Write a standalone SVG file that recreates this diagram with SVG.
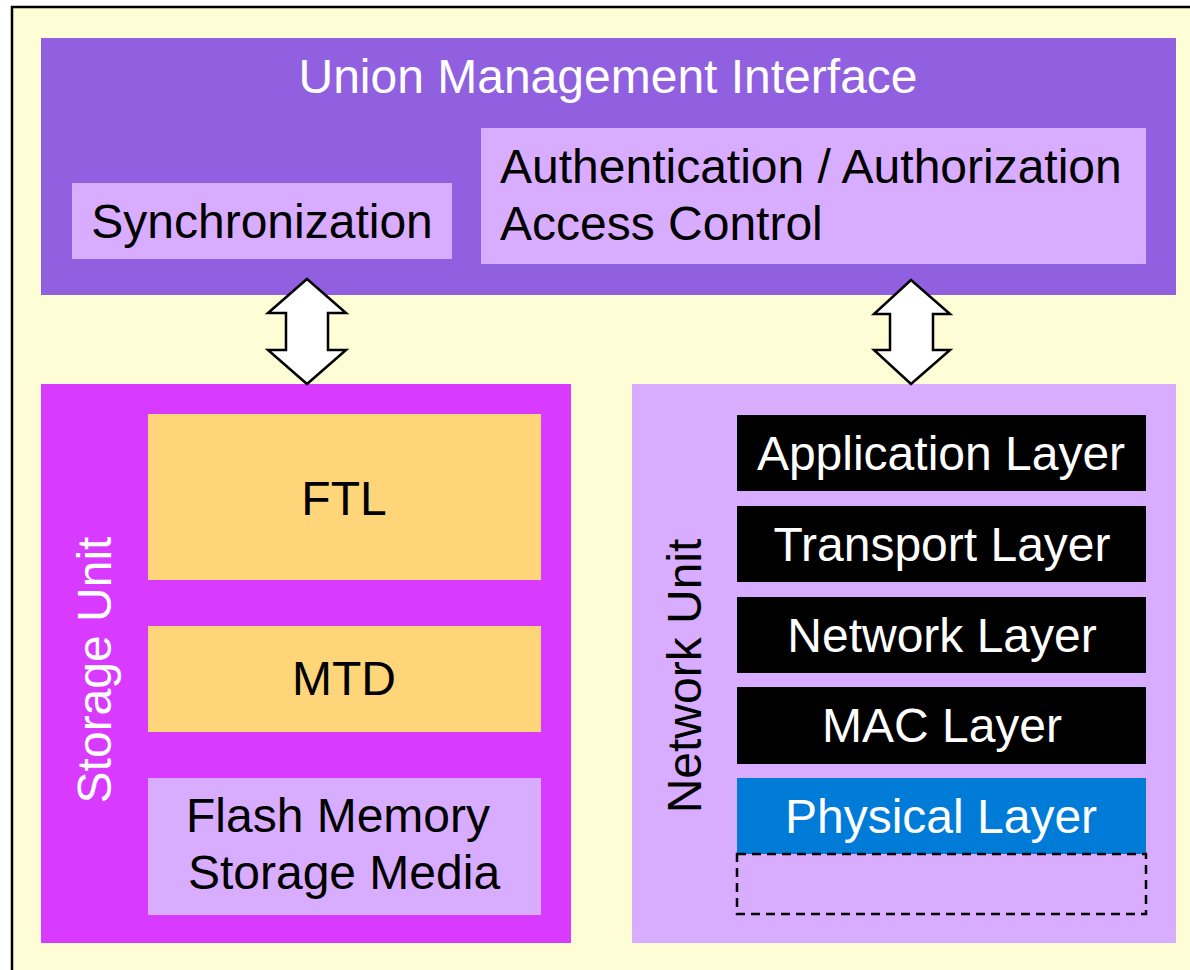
<svg xmlns="http://www.w3.org/2000/svg" width="1190" height="970" viewBox="0 0 1190 970">
<style>
text{font-family:"Liberation Sans",Arial,sans-serif;font-size:48px;}
.w{fill:#FFFFFF}
.b{fill:#000000}
.mid{text-anchor:middle}
.lav{fill:#D8ACFF}
.layer{fill:#000000}
.arrow{fill:#FFFFFF;stroke:#000000;stroke-width:2.5;stroke-linejoin:miter}
</style>
<rect x="0" y="0" width="1190" height="970" fill="#FFFFFF"/>
<rect id="background" x="12" y="7" width="1190" height="975" fill="#FFFDD5" stroke="#000000" stroke-width="2.5"/>

<g id="union-management">
<rect x="41" y="38" width="1135" height="257" fill="#9060E0"/>
<text class="w mid" x="608" y="93" font-size="49">Union Management Interface</text>
</g>
<g id="synchronization">
<rect class="lav" x="72" y="183" width="380" height="76"/>
<text class="b mid" x="262" y="238" font-size="49">Synchronization</text>
</g>
<g id="auth">
<rect class="lav" x="481" y="128" width="665" height="136"/>
<text class="b" x="500" y="183" font-size="49">Authentication / Authorization</text>
<text class="b" x="500" y="240" font-size="49">Access Control</text>
</g>

<g id="storage-unit">
<rect x="41" y="384" width="530" height="559" fill="#D93AFF"/>
<text class="w mid" transform="translate(111,670) rotate(-90)" font-size="49">Storage Unit</text>
</g>
<g id="ftl">
<rect x="148" y="414" width="393" height="166" fill="#FFD57A"/>
<text class="b mid" x="344" y="515">FTL</text>
</g>
<g id="mtd">
<rect x="148" y="626" width="393" height="106" fill="#FFD57A"/>
<text class="b mid" x="344" y="695">MTD</text>
</g>
<g id="flash">
<rect class="lav" x="148" y="778" width="393" height="137"/>
<text class="b mid" x="338" y="832">Flash Memory</text>
<text class="b mid" x="344" y="889">Storage Media</text>
</g>

<g id="network-unit">
<rect class="lav" x="632" y="384" width="544" height="559"/>
<text class="b mid" transform="translate(701,676) rotate(-90)" font-size="49">Network Unit</text>
</g>
<g id="application-layer">
<rect class="layer" x="737" y="415" width="409" height="76"/>
<text class="w mid" x="941" y="470">Application Layer</text>
</g>
<g id="transport-layer">
<rect class="layer" x="737" y="506" width="409" height="76"/>
<text class="w mid" x="942" y="561">Transport Layer</text>
</g>
<g id="network-layer">
<rect class="layer" x="737" y="597" width="409" height="76"/>
<text class="w mid" x="942" y="652">Network Layer</text>
</g>
<g id="mac-layer">
<rect class="layer" x="737" y="687" width="409" height="77"/>
<text class="w mid" x="942" y="742">MAC Layer</text>
</g>
<g id="physical-layer">
<rect x="737" y="778" width="409" height="76" fill="#007CD8"/>
<text class="w mid" x="941" y="833">Physical Layer</text>
</g>
<g id="empty-layer">
<rect x="737" y="854" width="409" height="60" fill="none" stroke="#000000" stroke-width="2.5" stroke-dasharray="9,6"/>
</g>

<g id="connectors">
<polygon class="arrow" points="307,279 346,313 328,313 328,350 346,350 307,384 268,350 286,350 286,313 268,313"/>
<polygon class="arrow" points="911,280 950,314 933,314 933,350 950,350 911,384 874,350 890,350 890,314 874,314"/>
</g>
</svg>
